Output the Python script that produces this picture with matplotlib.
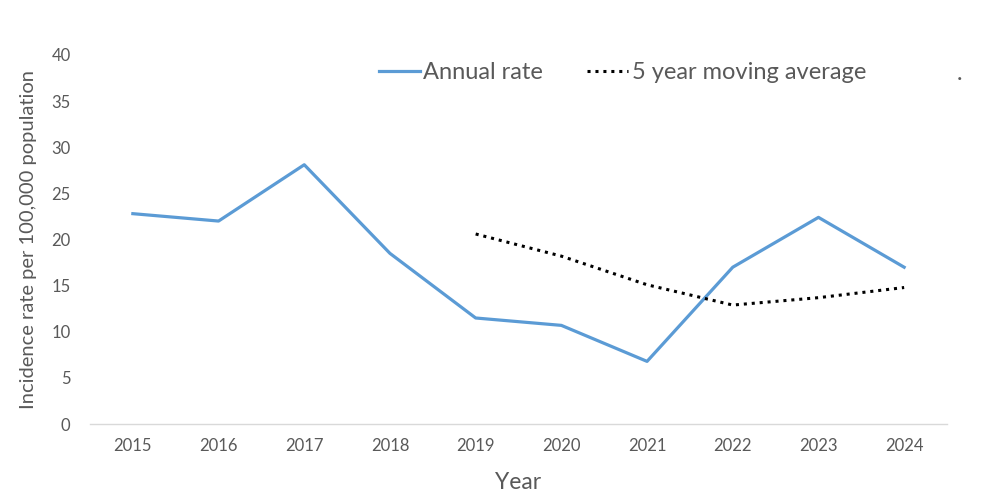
import matplotlib.pyplot as plt

plt.rcParams['font.family'] = ['Lato', 'DejaVu Sans']

years = ['2015', '2016', '2017', '2018', '2019', '2020', '2021', '2022', '2023', '2024']
annual_rate = [22.8, 22.0, 28.1, 18.5, 11.5, 10.7, 6.8, 17.0, 22.4, 17.0]
ma_years = ['2019', '2020', '2021', '2022', '2023', '2024']
moving_avg = [20.6, 18.2, 15.1, 12.9, 13.7, 14.8]
y_ticks = [0, 5, 10, 15, 20, 25, 30, 35, 40]

grey = '#595959'

fig = plt.figure(figsize=(10, 4.99), dpi=100)
ax = fig.add_axes([0.09, 0.150, 0.857, 0.740])

x = list(range(len(years)))
x_ma = [years.index(y) for y in ma_years]

ax.plot(x, annual_rate, color='#5B9BD5', linewidth=2.3, label='Annual rate')
ax.plot(x_ma, moving_avg, color='black', linewidth=2.2, linestyle=(0, (1, 1.6)),
        label='5 year moving average')

ax.set_xlim(-0.5, len(years) - 0.5)
ax.set_ylim(0, 40)
ax.set_xticks(x)
ax.set_xticklabels(years)
ax.set_yticks(y_ticks)

for s in ['top', 'right', 'left']:
    ax.spines[s].set_visible(False)
ax.spines['bottom'].set_color('#d9d9d9')
ax.spines['bottom'].set_linewidth(1)
ax.tick_params(axis='both', length=0, labelsize=12, colors=grey, pad=10)
ax.tick_params(axis='y', pad=14)

ax.set_xlabel('Year', fontsize=16.5, color=grey, labelpad=13)
ax.set_ylabel('Incidence rate per 100,000 population', fontsize=14.5, color=grey, labelpad=10)

leg = ax.legend(loc='upper left', bbox_to_anchor=(0.312, 1.037), ncol=2, frameon=False,
                fontsize=17, handlelength=1.75, handletextpad=0.15, columnspacing=1.85)
for t in leg.get_texts():
    t.set_color(grey)
fig.text(0.957, 0.84, '.', fontsize=17, color=grey)

fig.savefig('out.png', dpi=100)
